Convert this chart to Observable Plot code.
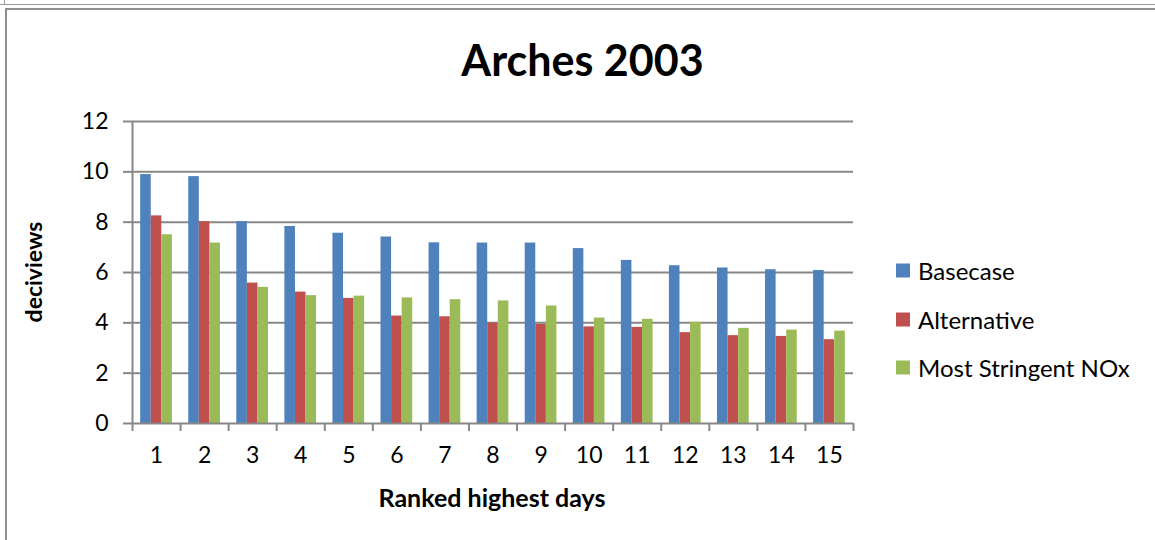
<!DOCTYPE html>
<html>
<head>
<meta charset="utf-8">
<script src="https://cdn.jsdelivr.net/npm/d3@7"></script>
<script src="https://cdn.jsdelivr.net/npm/@observablehq/plot@0.6"></script>
<style>
  html, body { margin: 0; padding: 0; background: #fff; }
  #wrap { position: relative; width: 1155px; height: 540px; overflow: hidden; font-family: Lato, "Open Sans", sans-serif; color: #000; }
  #topline { position: absolute; left: 0; top: 4px; width: 1155px; height: 0; border-top: 1.5px solid #9a9a9a; }
  #topcorner { position: absolute; left: 4px; top: 0; width: 0; height: 5px; border-left: 1.5px solid #9a9a9a; }
  #box { position: absolute; left: 5px; top: 8px; width: 1160px; height: 540px; border-left: 2px solid #8f8f8f; border-top: 2px solid #8f8f8f; }
  #chart { position: absolute; left: 0; top: 0; }
  .title { position: absolute; left: 0; width: 1165px; top: 60px; transform: translateY(-50%); text-align: center; font-weight: 700; font-size: 43px; line-height: 1.2; }
  .ylabel { position: absolute; left: 33px; top: 272px; transform: translate(-50%, -50%) rotate(-90deg); font-weight: 700; font-size: 23px; white-space: nowrap; }
  .xlabel { position: absolute; left: 492px; top: 497px; transform: translate(-50%, -50%); font-weight: 700; font-size: 25px; white-space: nowrap; }
  .legend { position: absolute; left: 896px; top: 0; }
  .legend .item { position: absolute; left: 0; white-space: nowrap; font-size: 24px; display: flex; align-items: center; transform: translateY(-50%); }
  .legend .sw { width: 14px; height: 14px; margin-right: 8px; display: inline-block; }
</style>
</head>
<body>
<div id="wrap">
  <div id="topline"></div>
  <div id="topcorner"></div>
  <div id="box"></div>
  <div id="chart"></div>
  <div class="title" id="title"></div>
  <div class="ylabel" id="ylabel"></div>
  <div class="xlabel" id="xlabel"></div>
  <div class="legend" id="legend"></div>
</div>
<script>
// ---- data ----
const titleText = "Arches 2003";
const yLabelText = "deciviews";
const xLabelText = "Ranked highest days";
const days = [1, 2, 3, 4, 5, 6, 7, 8, 9, 10, 11, 12, 13, 14, 15];
const seriesNames = ["Basecase", "Alternative", "Most Stringent NOx"];
const basecase    = [9.89, 9.81, 8.02, 7.83, 7.56, 7.41, 7.18, 7.17, 7.17, 6.95, 6.48, 6.27, 6.18, 6.11, 6.08];
const alternative = [8.25, 8.02, 5.58, 5.22, 4.97, 4.27, 4.24, 3.99, 3.94, 3.84, 3.82, 3.61, 3.49, 3.46, 3.33];
const stringent   = [7.50, 7.17, 5.41, 5.08, 5.06, 4.99, 4.92, 4.87, 4.67, 4.19, 4.14, 4.02, 3.78, 3.71, 3.67];
const yTicks = [0, 2, 4, 6, 8, 10, 12];
const seriesColors = ["#4F81BD", "#C0504D", "#9BBB59"];

// ---- build table ----
const seriesValues = [basecase, alternative, stringent];
const rows = [];
seriesNames.forEach((s, i) => {
  days.forEach((d, j) => rows.push({day: d, series: s, idx: i, value: seriesValues[i][j]}));
});
const groupFill = 0.66;           // share of each category taken by bars
const barW = groupFill / seriesNames.length;
const boundaries = days.map(d => d - 0.5).concat([days[days.length - 1] + 0.5]);
const gridColor = "#878787";

const chart = Plot.plot({
  width: 1155,
  height: 540,
  marginLeft: 132,
  marginRight: 302,
  marginTop: 121,
  marginBottom: 117,
  style: {fontFamily: "Lato, 'Open Sans', sans-serif", fontSize: "23px", color: "#000", background: "transparent"},
  x: {domain: [boundaries[0], boundaries[boundaries.length - 1]], axis: null},
  y: {domain: [yTicks[0], yTicks[yTicks.length - 1]], axis: null},
  color: {domain: seriesNames, range: seriesColors},
  marks: [
    Plot.gridY(yTicks.slice(1), {stroke: gridColor, strokeOpacity: 1, strokeWidth: 2}),
    Plot.rectY(rows, {
      x1: d => d.day - groupFill / 2 + d.idx * barW,
      x2: d => d.day - groupFill / 2 + (d.idx + 1) * barW,
      y1: 0,
      y2: "value",
      fill: "series"
    }),
    Plot.ruleY([yTicks[0]], {stroke: gridColor, strokeWidth: 2}),
    Plot.ruleX([boundaries[0]], {stroke: gridColor, strokeWidth: 2}),
    Plot.axisY({ticks: yTicks, tickSize: 9, tickPadding: 15, stroke: gridColor, strokeWidth: 2, label: null, fontSize: 23, fill: "#000"}),
    Plot.axisX({ticks: boundaries, tickSize: 8, tickFormat: () => "", stroke: gridColor, strokeWidth: 2, label: null}),
    Plot.axisX({ticks: days, tickSize: 0, tickPadding: 23, label: null, fontSize: 23, fill: "#000"})
  ]
});
document.getElementById("chart").appendChild(chart);

document.getElementById("title").textContent = titleText;
document.getElementById("ylabel").textContent = yLabelText;
document.getElementById("xlabel").textContent = xLabelText;

const legendTops = [270, 319, 367];
const legend = document.getElementById("legend");
seriesNames.forEach((s, i) => {
  const item = document.createElement("div");
  item.className = "item";
  item.style.top = legendTops[i] + "px";
  const sw = document.createElement("span");
  sw.className = "sw";
  sw.style.background = seriesColors[i];
  item.appendChild(sw);
  item.appendChild(document.createTextNode(s));
  legend.appendChild(item);
});
</script>
</body>
</html>
